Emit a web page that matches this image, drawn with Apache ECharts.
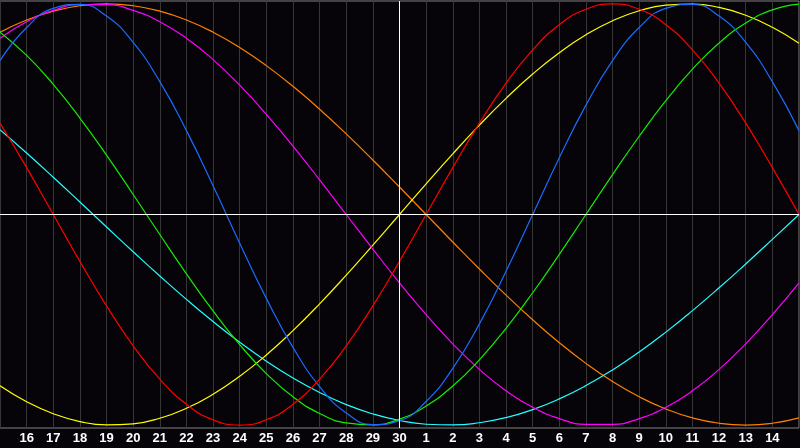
<!DOCTYPE html>
<html lang="en">
<head>
<meta charset="UTF-8">
<meta name="viewport" content="width=device-width, initial-scale=1.0">
<title>Biorhythm</title>
<script src="https://cdn.jsdelivr.net/npm/echarts@6/dist/echarts.min.js"></script>
<style>
html, body { margin: 0; padding: 0; background: #060409; }
#chart { width: 800px; height: 448px; }
</style>
</head>
<body>
<div id="chart"></div>
<script>
// days shown, 15th of one month to 15th of the next
const dayLabels = ['15', '16', '17', '18', '19', '20', '21', '22', '23', '24', '25', '26', '27', '28', '29', '30',
'1', '2', '3', '4', '5', '6', '7', '8', '9', '10', '11', '12', '13', '14', '15'];
const todayIndex = 15;

const red = [0.4339, 0.2225, 0, -0.2225, -0.4339, -0.6235, -0.7818, -0.9010, -0.9749, -1, -0.9749, -0.9010, -0.7818, -0.6235, -0.4339, -0.2225,
0, 0.2225, 0.4339, 0.6235, 0.7818, 0.9010, 0.9749, 1, 0.9749, 0.9010, 0.7818, 0.6235, 0.4339, 0.2225, 0];
const green = [0.8660, 0.7557, 0.6182, 0.4582, 0.2817, 0.0951, -0.0951, -0.2817, -0.4582, -0.6182, -0.7557, -0.8660, -0.9450, -0.9898, -0.9989, -0.9718,
-0.9096, -0.8146, -0.6901, -0.5406, -0.3717, -0.1893, 0, 0.1893, 0.3717, 0.5406, 0.6901, 0.8146, 0.9096, 0.9718, 0.9989];
const blue = [0.7308, 0.8879, 0.9791, 0.9977, 0.9423, 0.8170, 0.6311, 0.3984, 0.1362, -0.1362, -0.3984, -0.6311, -0.8170, -0.9423, -0.9977, -0.9791,
-0.8879, -0.7308, -0.5196, -0.2698, 0, 0.2698, 0.5196, 0.7308, 0.8879, 0.9791, 0.9977, 0.9423, 0.8170, 0.6311, 0.3984];
const magenta = [0.8372, 0.9158, 0.9694, 0.9966, 0.9966, 0.9694, 0.9158, 0.8372, 0.7357, 0.6142, 0.4759, 0.3247, 0.1646, 0, -0.1646, -0.3247,
-0.4759, -0.6142, -0.7357, -0.8372, -0.9158, -0.9694, -0.9966, -0.9966, -0.9694, -0.9158, -0.8372, -0.7357, -0.6142, -0.4759, -0.3247];
const cyan = [0.4031, 0.2920, 0.1769, 0.0593, -0.0593, -0.1769, -0.2920, -0.4031, -0.5085, -0.6069, -0.6965, -0.7767, -0.8456, -0.9028, -0.9473, -0.9785,
-0.9961, -0.9996, -0.9890, -0.9647, -0.9267, -0.8757, -0.8126, -0.7380, -0.6527, -0.5586, -0.4566, -0.3482, -0.2348, -0.1183, 0];
const yellow = [-0.8135, -0.8893, -0.9464, -0.9834, -0.9993, -0.9940, -0.9675, -0.9204, -0.8535, -0.7685, -0.6672, -0.5517, -0.4245, -0.2881, -0.1456, 0,
0.1456, 0.2881, 0.4245, 0.5517, 0.6672, 0.7685, 0.8535, 0.9204, 0.9675, 0.9940, 0.9993, 0.9834, 0.9464, 0.8893, 0.8135];
const orange = [0.8660, 0.9239, 0.9659, 0.9914, 1, 0.9914, 0.9659, 0.9239, 0.8660, 0.7934, 0.7071, 0.6088, 0.5, 0.3827, 0.2588, 0.1305,
0, -0.1305, -0.2588, -0.3827, -0.5, -0.6088, -0.7071, -0.7934, -0.8660, -0.9239, -0.9659, -0.9914, -1, -0.9914, -0.9659];

const curves = [
{ data: orange, color: '#ff8000' },
{ data: cyan, color: '#22ffff' },
{ data: yellow, color: '#ffff00' },
{ data: magenta, color: '#ff00ff' },
{ data: green, color: '#11ee00' },
{ data: blue, color: '#1a6cff' },
{ data: red, color: '#ff0000' }
];

const chart = echarts.init(document.getElementById('chart'));
const series = curves.map(c => ({
type: 'line',
data: c.data,
smooth: true,
symbol: 'none',
lineStyle: { color: c.color, width: 1.2 },
z: 3
}));
// white cross through zero and today
series.push({
type: 'line',
data: [],
markLine: {
silent: true,
symbol: 'none',
label: { show: false },
lineStyle: { color: '#ffffff', width: 1, type: 'solid' },
data: [{ yAxis: 0 }, { xAxis: todayIndex }]
},
z: 2
});

const option = {
animation: false,
backgroundColor: '#060409',
grid: {
left: 0,
right: 1,
top: 1,
bottom: 20,
show: true,
borderColor: '#808080',
borderWidth: 1
},
xAxis: {
type: 'category',
data: dayLabels,
boundaryGap: false,
axisLine: { lineStyle: { color: '#a0a0a0' } },
axisTick: { show: false },
axisLabel: {
interval: (i) => i > 0 && i < dayLabels.length - 1,
color: '#ffffff',
fontFamily: 'Liberation Sans',
fontWeight: 'bold',
fontSize: 13,
margin: 4
},
splitLine: { show: true, interval: 0, lineStyle: { color: '#363636', width: 1 } }
},
yAxis: {
type: 'value',
min: -1.014,
max: 1.014,
show: false,
splitLine: { show: false }
},
series: series
};
chart.setOption(option);
</script>
</body>
</html>
